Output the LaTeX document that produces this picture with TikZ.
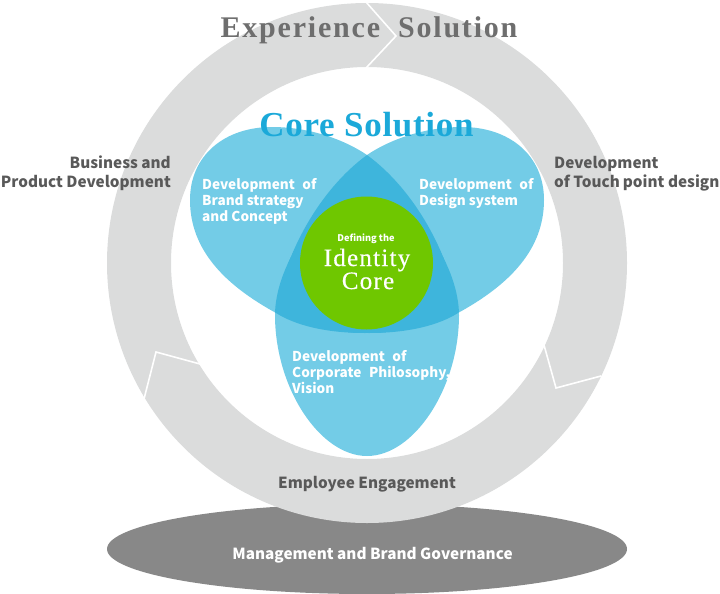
\documentclass[tikz,border=0pt]{standalone}
\usepackage{fontspec}
\setmainfont{Liberation Serif}
\newfontfamily\labelfont{Noto Sans CJK JP}
\newfontfamily\titlefont[LetterSpace=6]{Liberation Serif}
\newfontfamily\coretitlefont[LetterSpace=2]{Liberation Serif}
\newfontfamily\identityfont[LetterSpace=5,FakeBold=0.4]{Liberation Serif}
\definecolor{RingGray}{HTML}{DBDCDC}
\definecolor{BaseGray}{HTML}{888888}
\definecolor{TitleGray}{HTML}{6E6E6E}
\definecolor{TextGray}{HTML}{595959}
\definecolor{PetalBlue}{HTML}{73CCE7}
\definecolor{OverlapBlue}{HTML}{3EB5DC}
\definecolor{CoreBlue}{HTML}{1BA9D9}
\definecolor{CoreGreen}{HTML}{6FC700}
\newcommand{\LeftPetal}{(190,200) .. controls (190,155) and (225,127) .. (272,127)
  .. controls (310,127) and (345,140) .. (367,155) .. controls (415,190) and (450,255) .. (458,310)
  .. controls (430,325) and (400,333) .. (365,333) .. controls (325,333) and (295,325) .. (276,313)
  .. controls (225,285) and (190,250) .. (190,200) -- cycle}
\newcommand{\RightPetal}{(544,200) .. controls (544,155) and (509,127) .. (462,127)
  .. controls (424,127) and (389,140) .. (367,155) .. controls (319,190) and (284,255) .. (276,310)
  .. controls (304,325) and (334,333) .. (369,333) .. controls (409,333) and (439,325) .. (458,313)
  .. controls (509,285) and (544,250) .. (544,200) -- cycle}
\newcommand{\BottomPetal}{(367,456) .. controls (414,456) and (459,388) .. (459,315)
  .. controls (459,270) and (420,200) .. (367,200) .. controls (314,200) and (275,270) .. (275,315)
  .. controls (275,388) and (320,456) .. (367,456) -- cycle}
\begin{document}
\begin{tikzpicture}[x=1pt,y=-1pt]
	\tikzstyle{TitleStyle}   = [anchor=base,inner sep=0pt,font=\titlefont\bfseries\fontsize{30}{30}\selectfont]
	\tikzstyle{CaptionStyle} = [inner sep=0pt,text=TextGray,font=\labelfont\bfseries\fontsize{15.3}{19}\selectfont]
	\tikzstyle{PetalStyle}   = [inner sep=0pt,text=white,anchor=north west,align=left,font=\labelfont\bfseries\fontsize{13.6}{16}\selectfont]
	\tikzstyle{CutStyle}     = [white,line width=1.6pt,line join=miter]

	\useasboundingbox (0,0) rectangle (720,594);
	\fill[BaseGray] (367,549) ellipse [x radius=260,y radius=45];
	\fill[RingGray,even odd rule] (367,263) circle [radius=260] (367,263) circle [radius=196];

	\coordinate (TopOuter) at (366,2);   \coordinate (TopTip) at (396,36);     \coordinate (TopInner) at (366,68);
	\coordinate (LeftOuter) at (144,399); \coordinate (LeftTip) at (156,352);  \coordinate (LeftInner) at (200,364);
	\coordinate (RightInner) at (544,345); \coordinate (RightTip) at (556,388); \coordinate (RightOuter) at (601,376);
	\draw[CutStyle] (TopOuter) -- (TopTip) -- (TopInner);
	\draw[CutStyle] (LeftOuter) -- (LeftTip) -- (LeftInner);
	\draw[CutStyle] (RightInner) -- (RightTip) -- (RightOuter);

	\fill[PetalBlue] \LeftPetal;
	\fill[PetalBlue] \RightPetal;
	\fill[PetalBlue] \BottomPetal;
	\begin{scope} \clip \LeftPetal;  \fill[OverlapBlue] \RightPetal; \fill[OverlapBlue] \BottomPetal; \end{scope}
	\begin{scope} \clip \RightPetal; \fill[OverlapBlue] \BottomPetal; \end{scope}

	\node[circle,fill=CoreGreen,minimum size=133pt,inner sep=0pt] (IdentityCore) at (366.5,263) {};

	\node[TitleStyle,text=TitleGray] (Experience) at (369,38) {Experience\hspace{18pt}Solution};
	\node[TitleStyle,text=CoreBlue,font=\coretitlefont\bfseries\fontsize{35}{35}\selectfont] (CoreSolution) at (366.5,136) {Core Solution};

	\node[CaptionStyle,anchor=east,align=right] (Business) at (171,173.5) {Business and\\Product Development};
	\node[CaptionStyle,anchor=west,align=left] (Touchpoint) at (554,173.5) {Development\\of Touch\hspace{3pt}point design};
	\node[CaptionStyle] (Employee) at (367,484.5) {Employee Engagement};
	\node[CaptionStyle,text=white] (Governance) at (372.5,555.5) {Management and Brand Governance};

	\node[PetalStyle] (Brand) at (202,178) {Development\hspace{7.5pt}of\\Brand strategy\\and Concept};
	\node[PetalStyle] (Design) at (419,178) {Development\hspace{7.5pt}of\\Design system};
	\node[PetalStyle] (Corporate) at (292,350) {Development\hspace{7.5pt}of\\Corporate\hspace{7.5pt}Philosophy,\\Vision};

	\node[inner sep=0pt,text=white,font=\labelfont\bfseries\fontsize{9.2}{9.2}\selectfont] (Defining) at (366,239) {Defining the};
	\node[inner sep=0pt,text=white,anchor=base,font=\identityfont\fontsize{25}{25}\selectfont] (Identity) at (367,266) {Identity};
	\node[inner sep=0pt,text=white,anchor=base,font=\identityfont\fontsize{25}{25}\selectfont] (Core) at (368,289) {Core};
\end{tikzpicture}
\end{document}
